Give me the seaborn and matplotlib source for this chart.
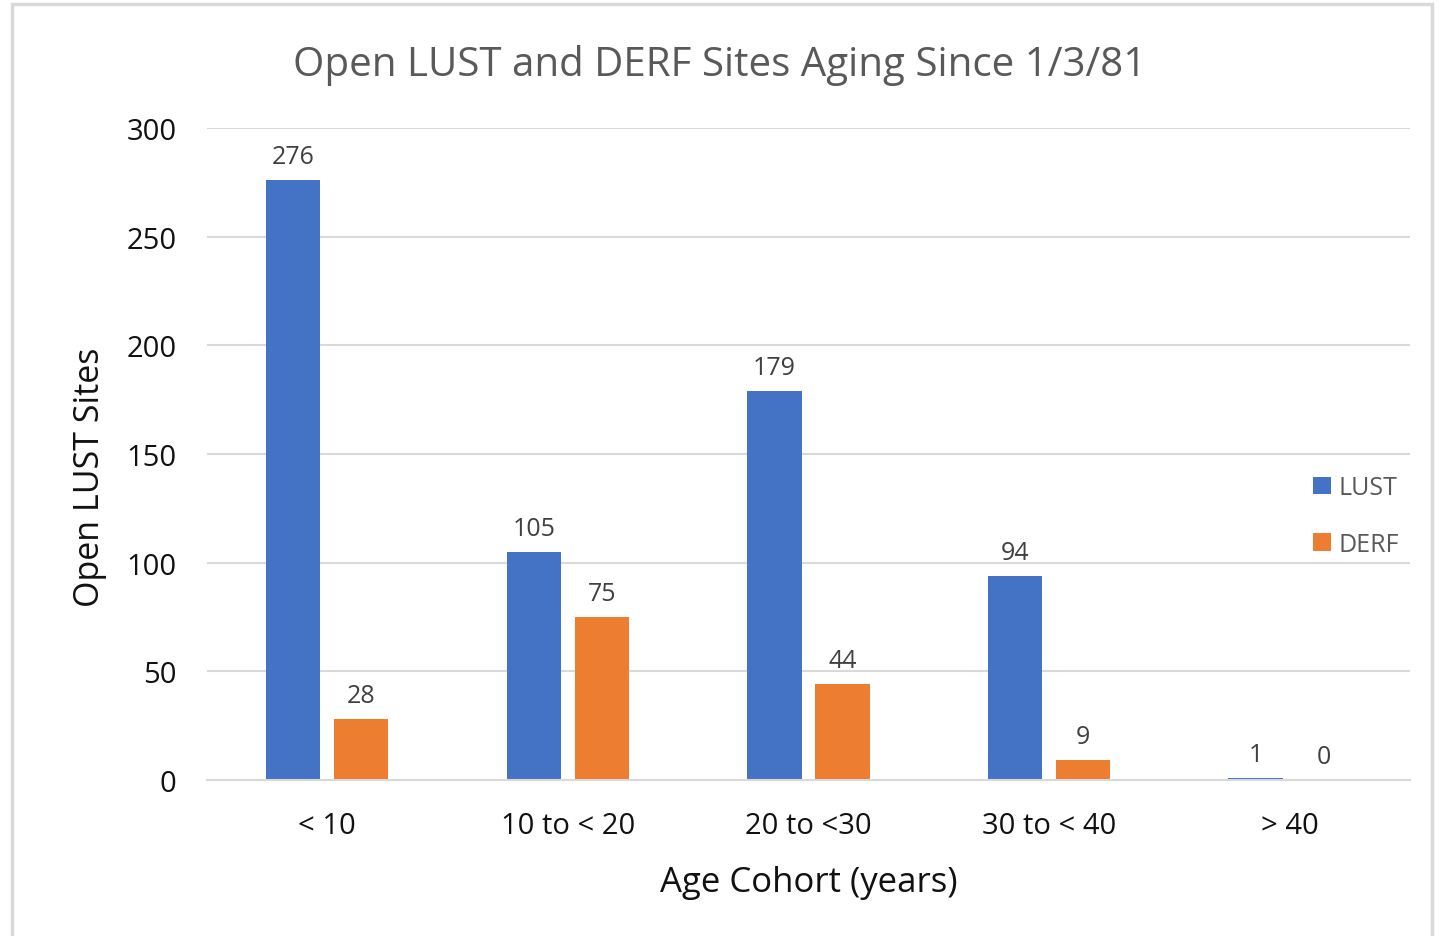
import pandas as pd
import seaborn as sns
import matplotlib.pyplot as plt
from matplotlib.patches import Rectangle

cohorts = ["< 10", "10 to < 20", "20 to <30", "30 to < 40", "> 40"]
lust = [276, 105, 179, 94, 1]
derf = [28, 75, 44, 9, 0]
series = ["LUST", "DERF"]
colors = ["#4472C4", "#ED7D31"]

df = pd.DataFrame({
    "cohort": cohorts * 2,
    "sites": lust + derf,
    "type": [series[0]] * len(lust) + [series[1]] * len(derf),
})

sns.set_theme(style="white")
plt.rcParams['font.family'] = ['Open Sans', 'DejaVu Sans']

fig = plt.figure(figsize=(14.4, 9.37), dpi=100)
ax = fig.add_axes([0.1437, 0.1665, 0.8354, 0.6958])

sns.barplot(data=df, x="cohort", y="sites", hue="type", palette=colors,
            width=0.565, gap=0.2, saturation=1, linewidth=0, ax=ax)

for cont in ax.containers:
    ax.bar_label(cont, fmt="%d", padding=8, fontsize=18, color="#404040")

ax.set_ylim(0, 300)
ax.set_yticks(range(0, 301, 50))
ax.yaxis.grid(True, color="#d9d9d9", linewidth=1.5)
ax.set_axisbelow(True)
for s in ["left", "right", "top"]:
    ax.spines[s].set_visible(False)
ax.spines["bottom"].set_color("#d9d9d9")
ax.spines["bottom"].set_linewidth(1.5)
ax.tick_params(axis="both", length=0, labelsize=21, colors="#111111")
ax.tick_params(axis="x", pad=22)
ax.tick_params(axis="y", pad=22)

ax.set_xlabel("Age Cohort (years)", fontsize=25, color="#111111", labelpad=18)
ax.set_ylabel("Open LUST Sites", fontsize=24.5, color="#111111")
ax.yaxis.set_label_coords(-0.083, 0.466)
fig.suptitle("Open LUST and DERF Sites Aging Since 1/3/81", fontsize=29,
             color="#595959", y=0.930, va="center")

ax.legend(frameon=False, loc="center left", bbox_to_anchor=(0.901, 0.405),
          fontsize=18, labelspacing=1.25, handlelength=0.7, handleheight=0.7,
          handletextpad=0.3, labelcolor="#595959")

fig.patches.append(Rectangle((0.0083, -0.01), 0.9861, 1.0047,
                             transform=fig.transFigure, fill=False,
                             edgecolor="#d9d9d9", linewidth=2.5))

fig.savefig("out.png", dpi=100)
